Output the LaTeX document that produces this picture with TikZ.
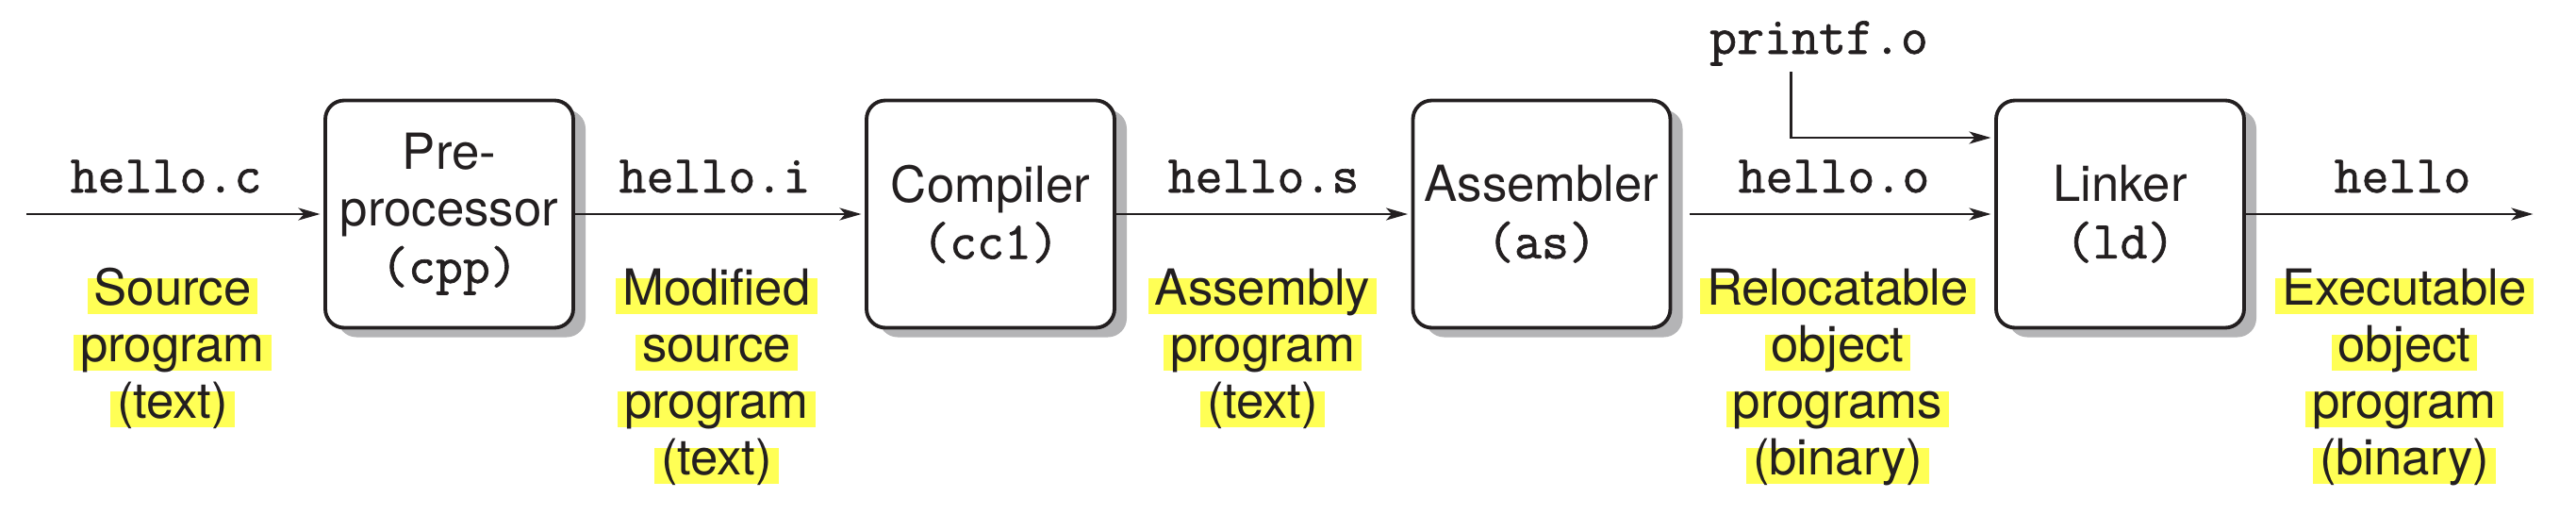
\documentclass[tikz,border=0pt]{standalone}
\usepackage{fontspec}
\setsansfont{TeX Gyre Heros}
\newfontfamily\codefont{Latin Modern Mono}[FakeBold=1.2]
\usetikzlibrary{arrows.meta,shadows,positioning}
\definecolor{ink}{RGB}{35,31,32}
\definecolor{hly}{RGB}{255,255,85}
\definecolor{shade}{RGB}{180,180,182}
\newcommand{\mono}[1]{{\fontsize{16}{17.07}\selectfont\codefont #1}}
\newcommand{\hl}[1]{{\setlength{\fboxsep}{0pt}\colorbox{hly}{\hspace{2pt}\rule[-2.8pt]{0pt}{11pt}\smash{#1}\hspace{2pt}}}}
\tikzset{
  stage/.style={draw=ink, line width=1.1pt, rounded corners=0.2cm, fill=white,
    minimum width=2.63cm, minimum height=2.41cm, inner xsep=0.12cm, align=center,
    text=ink, font=\fontsize{15}{17.07}\selectfont\sffamily,
    drop shadow={shadow xshift=0.13cm, shadow yshift=-0.1cm, fill=shade, opacity=1}},
  file/.style={anchor=base, inner sep=0pt, text=ink, font=\fontsize{16}{17.07}\selectfont\codefont},
  note/.style={anchor=north, inner sep=0pt, align=center, text=ink, font=\fontsize{15}{17.07}\selectfont\sffamily},
  flow/.style={draw=ink, line width=0.85pt, -{Stealth[length=0.23cm, width=0.13cm, inset=0.06cm]}, shorten >=1pt}
}
\begin{document}
\begin{tikzpicture}
\useasboundingbox (0,0) rectangle (27.32,5.62);
\node (pre) at (4.765,3.35)[stage] {Pre-\\processor\\\mono{(cpp)}};
\node (comp) at (10.505,3.35)[stage] {Compiler\\\mono{(cc1)}};
\node (asm) at (16.35,3.35)[stage] {Assembler\\\mono{(as)}};
\node (link) at (22.485,3.35)[stage] {Linker\\\mono{(ld)}};

\coordinate (src) at (0.28,3.35);
\coordinate (out) at (26.9,3.35);
\coordinate (pfstart) at (18.99,4.86);

\node (fc) at (1.76,3.58)[file] {hello.c};
\node (fi) at (7.58,3.58)[file] {hello.i};
\node (fs) at (13.40,3.58)[file] {hello.s};
\node (fo) at (19.45,3.58)[file] {hello.o};
\node (fx) at (25.48,3.58)[file] {hello};
\node (fp) at (19.29,5.05)[file] {printf.o};

\node (lc) at (1.83,2.68)[note] {\hl{Source}\\\hl{program}\\\hl{(text)}};
\node (li) at (7.60,2.68)[note] {\hl{Modified}\\\hl{source}\\\hl{program}\\\hl{(text)}};
\node (ls) at (13.39,2.68)[note] {\hl{Assembly}\\\hl{program}\\\hl{(text)}};
\node (lo) at (19.49,2.68)[note] {\hl{Relocatable}\\\hl{object}\\\hl{programs}\\\hl{(binary)}};
\node (lx) at (25.50,2.68)[note] {\hl{Executable}\\\hl{object}\\\hl{program}\\\hl{(binary)}};

\draw[flow] (src) -- (pre.west);
\draw[flow] (pre.east) -- (comp.west);
\draw[flow] (comp.east) -- (asm.west);
\draw[flow] ([xshift=0.19cm]asm.east) -- (link.west);
\draw[flow] (link.east) -- (out);
\draw[flow] (pfstart) |- ([yshift=0.81cm]link.west);
\end{tikzpicture}
\end{document}
